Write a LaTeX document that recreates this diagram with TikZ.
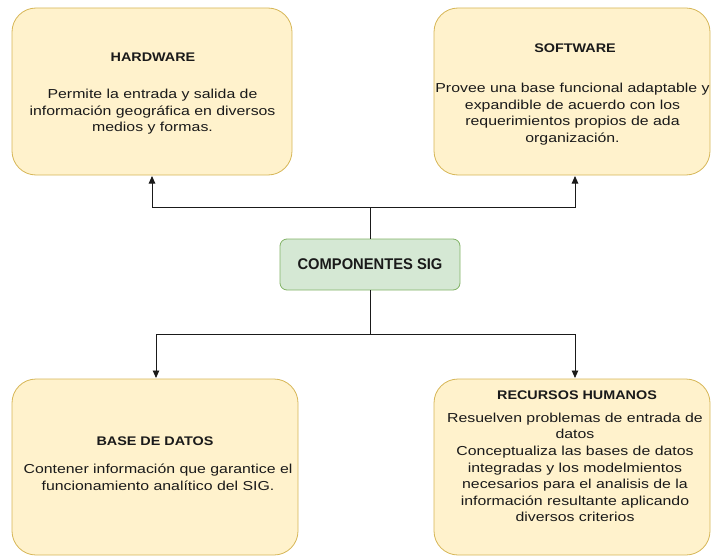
\documentclass[tikz,border=0pt]{standalone}
\usepackage{fontspec}
\setmainfont{Liberation Sans}
\newfontfamily\bodyfont[FakeStretch=1.22]{Liberation Sans}
\newfontfamily\titlefont[FakeStretch=1.15]{Liberation Sans Bold}
\newfontfamily\hubfont[FakeStretch=0.95]{Liberation Sans Bold}
\usetikzlibrary{arrows.meta}
\definecolor{boxfill}{HTML}{FFF2CC}
\definecolor{boxline}{HTML}{D6B656}
\definecolor{hubfill}{HTML}{D5E8D4}
\definecolor{hubline}{HTML}{82B366}
\definecolor{ink}{HTML}{1A1A1A}
\tikzset{
  card/.style={draw=boxline, fill=boxfill, rounded corners=24pt, line width=0.8pt},
  cardtitle/.style={inner sep=0pt, align=center, text=ink,
    font=\titlefont\fontsize{12.5}{16}\selectfont},
  cardbody/.style={inner sep=0pt, align=center, text=ink,
    font=\bodyfont\fontsize{13}{16.6}\selectfont},
  hub/.style={draw=hubline, fill=hubfill, rounded corners=7pt, line width=0.8pt,
    minimum width=180pt, minimum height=51pt, align=center, text=ink,
    font=\hubfont\fontsize{15.5}{18}\selectfont},
  link/.style={line width=0.9pt, draw=ink, -{Triangle[length=7.5pt,width=6.5pt]}},
}
\begin{document}
\begin{tikzpicture}[x=1pt, y=-1pt]
  \useasboundingbox (0,0) rectangle (711,559);
  % card outlines
  \draw[card] (12,8) rectangle (292,175);
  \draw[card] (434,8) rectangle (710,175);
  \draw[card] (12,379) rectangle (298,555);
  \draw[card] (434,379) rectangle (710,555);
  % HARDWARE
  \node[cardtitle] (hwt) at (153,57) {HARDWARE};
  \node[cardbody] (hwb) at (152.5,112) {Permite la entrada y salida de\\información geográfica en diversos\\medios y formas.};
  % SOFTWARE
  \node[cardtitle] (swt) at (575,48) {SOFTWARE};
  \node[cardbody] (swb) at (572.5,114) {Provee una base funcional adaptable y\\expandible de acuerdo con los\\requerimientos propios de ada\\organización.};
  % BASE DE DATOS
  \node[cardtitle] (bdt) at (155,441) {BASE DE DATOS};
  \node[cardbody] (bdb) at (158,477) {Contener información que garantice el\\funcionamiento analítico del SIG.};
  % RECURSOS HUMANOS
  \node[cardtitle] (rht) at (577,395) {RECURSOS HUMANOS};
  \node[cardbody] (rhb) at (575,467.5) {Resuelven problemas de entrada de\\datos\\Conceptualiza las bases de datos\\integradas y los modelmientos\\necesarios para el analisis de la\\información resultante aplicando\\diversos criterios};
  % central hub
  \node[hub] (hub) at (370,264.5) {COMPONENTES SIG};
  % entry points on the card edges
  \coordinate (hwin) at (152,176);
  \coordinate (swin) at (575,176);
  \coordinate (bdin) at (156,378);
  \coordinate (rhin) at (575,378);
  % connectors
  \draw[link] (hub.north) |- (hwin |- 0,207) -- (hwin);
  \draw[link] (hub.north) |- (swin |- 0,207) -- (swin);
  \draw[link] (hub.south) |- (bdin |- 0,334) -- (bdin);
  \draw[link] (hub.south) |- (rhin |- 0,334) -- (rhin);
\end{tikzpicture}
\end{document}
